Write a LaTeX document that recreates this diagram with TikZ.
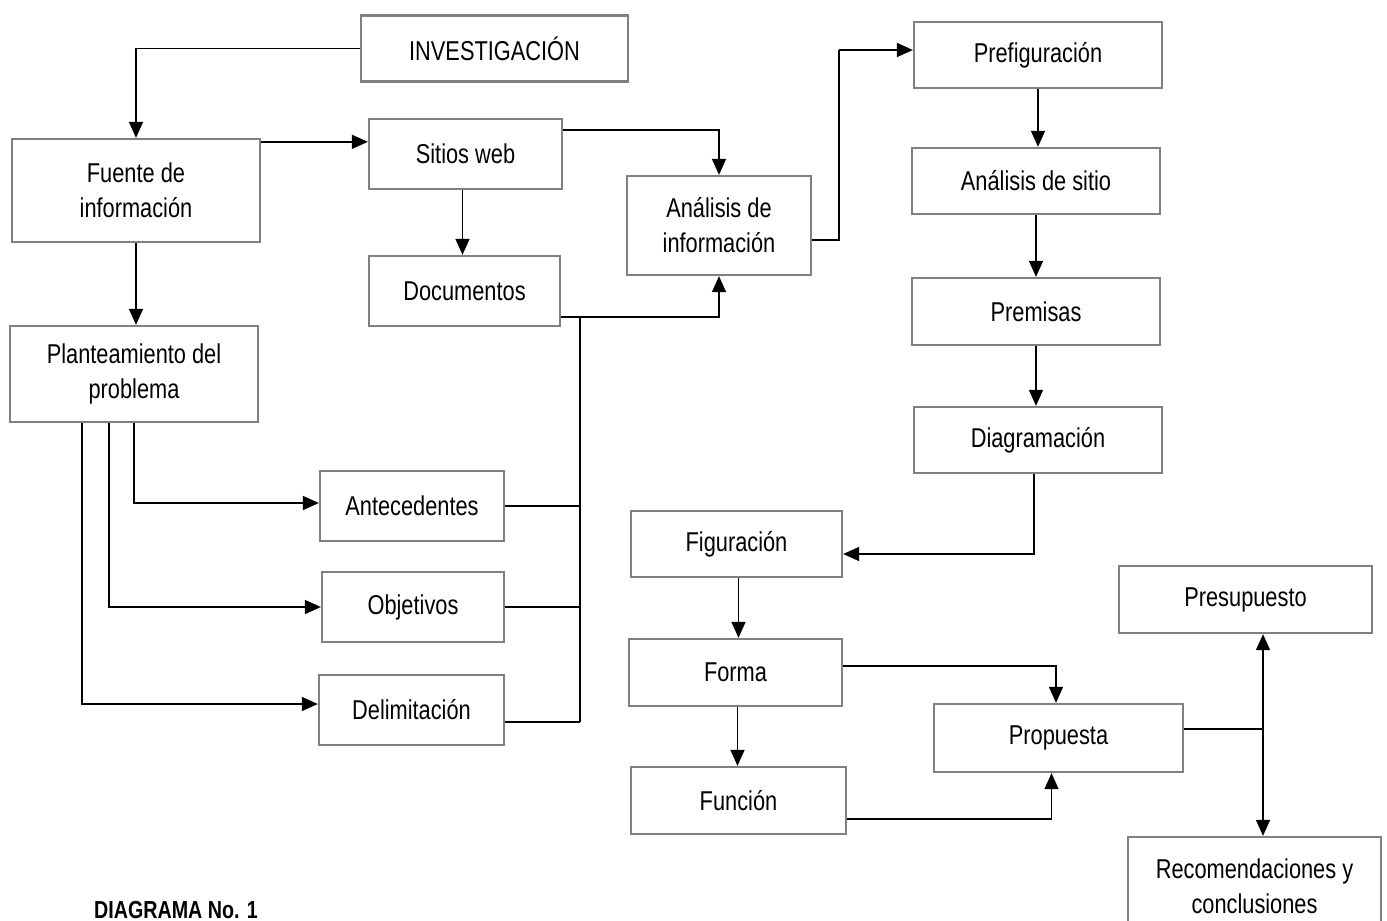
\documentclass[tikz,border=0pt]{standalone}
\usepackage{fontspec}
\setmainfont{Liberation Sans}[FakeStretch=0.8]
\newfontfamily\rotulo{Liberation Sans}[FakeStretch=0.8]
\usepackage{tikz}
\usetikzlibrary{arrows.meta}

\tikzset{
caja/.style={draw=black!50, line width=1.3pt, align=center, inner sep=0pt, font=\fontsize{15.5}{20}\selectfont},
linea/.style={line width=0.8pt},
flecha/.style={line width=0.8pt, -{Triangle[length=0.32cm,width=0.28cm]}}
}

\begin{document}
\begin{tikzpicture}
\useasboundingbox (0,0) rectangle (27.74,-18.42);
\fill [white] (0,0) rectangle (27.74,-18.42);
\node [caja, minimum width=5.34cm, minimum height=1.32cm] (inv) at (9.89,-0.97) {INVESTIGACIÓN};
\node [caja, minimum width=4.96cm, minimum height=2.06cm] (fue) at (2.72,-3.81) {Fuente de\\información};
\node [caja, minimum width=3.86cm, minimum height=1.40cm] (sit) at (9.31,-3.08) {Sitios web};
\node [caja, minimum width=3.82cm, minimum height=1.40cm] (doc) at (9.29,-5.82) {Documentos};
\node [caja, minimum width=3.68cm, minimum height=1.98cm] (ain) at (14.38,-4.51) {Análisis de\\información};
\node [caja, minimum width=4.96cm, minimum height=1.92cm] (pla) at (2.68,-7.48) {Planteamiento del\\problema};
\node [caja, minimum width=3.68cm, minimum height=1.40cm] (ant) at (8.24,-10.12) {Antecedentes};
\node [caja, minimum width=3.64cm, minimum height=1.40cm] (obj) at (8.26,-12.14) {Objetivos};
\node [caja, minimum width=3.70cm, minimum height=1.40cm] (del) at (8.23,-14.20) {Delimitación};
\node [caja, minimum width=4.96cm, minimum height=1.32cm] (pre) at (20.76,-1.10) {Prefiguración};
\node [caja, minimum width=4.96cm, minimum height=1.32cm] (asi) at (20.72,-3.62) {Análisis de sitio};
\node [caja, minimum width=4.96cm, minimum height=1.34cm] (prm) at (20.72,-6.23) {Premisas};
\node [caja, minimum width=4.96cm, minimum height=1.32cm] (dia) at (20.76,-8.80) {Diagramación};
\node [caja, minimum width=4.22cm, minimum height=1.32cm] (fig) at (14.73,-10.88) {Figuración};
\node [caja, minimum width=4.26cm, minimum height=1.34cm] (for) at (14.71,-13.45) {Forma};
\node [caja, minimum width=4.30cm, minimum height=1.34cm] (fun) at (14.77,-16.01) {Función};
\node [caja, minimum width=4.98cm, minimum height=1.36cm] (prp) at (21.17,-14.76) {Propuesta};
\node [caja, minimum width=5.06cm, minimum height=1.34cm] (psp) at (24.91,-11.99) {Presupuesto};
\node [caja, minimum width=5.06cm, minimum height=1.96cm] (rec) at (25.09,-17.72) {Recomendaciones y\\conclusiones};
\node [anchor=base west, font=\rotulo\bfseries\fontsize{14}{16}\selectfont] (tit) at (1.76,-18.36) {DIAGRAMA No. 1};
\coordinate (fs) at ([yshift=-0.48cm]sit.north west);
\coordinate (bus) at (11.6,-6.32);
\coordinate (nudo) at (25.26,-14.58);
\coordinate (sube) at (16.78,-1.0);
\draw [flecha] (inv.west) -| (fue.north);
\draw [flecha] (fs -| fue.east) -- (fs);
\draw [flecha] (fue.south) -- (fue.south |- pla.north);
\draw [flecha] ([xshift=-0.06cm]sit.south) -- ([xshift=-0.06cm]sit.south |- doc.north);
\draw [flecha] ([yshift=-0.24cm]sit.north east) -| (ain.north);
\draw [flecha] ([yshift=0.2cm]doc.south east) -| (ain.south);
\draw [linea] (bus) -- (bus |- 0,-14.44);
\draw [linea] (ant.east) -- (ant.east -| bus);
\draw [linea] (obj.east) -- (obj.east -| bus);
\draw [linea] ([yshift=-0.24cm]del.east) -- ([yshift=-0.24cm]del.east -| bus);
\draw [flecha] (pla.south) |- ([yshift=0.06cm]ant.west);
\draw [flecha] ([xshift=-0.5cm]pla.south) |- (obj.west);
\draw [flecha] ([xshift=-1.04cm]pla.south) |- ([yshift=0.12cm]del.west);
\draw [linea] ([yshift=-0.29cm]ain.east) -| (sube);
\draw [flecha] (sube) -- (sube -| pre.west);
\draw [flecha] (pre.south) -- (pre.south |- asi.north);
\draw [flecha] (asi.south) -- (asi.south |- prm.north);
\draw [flecha] (prm.south) -- (prm.south |- dia.north);
\draw [flecha] ([xshift=-0.08cm]dia.south) |- ([yshift=-0.2cm]fig.east);
\draw [flecha] ([xshift=0.04cm]fig.south) -- ([xshift=0.04cm]fig.south |- for.north);
\draw [flecha] ([xshift=0.04cm]for.south) -- ([xshift=0.04cm]for.south |- fun.north);
\draw [flecha] ([yshift=0.13cm]for.east) -| ([xshift=-0.05cm]prp.north);
\draw [flecha] ([yshift=-0.37cm]fun.east) -| ([xshift=-0.14cm]prp.south);
\draw [linea] (nudo -| prp.east) -- (nudo);
\draw [flecha] (nudo) -- (nudo |- psp.south);
\draw [flecha] (nudo) -- (nudo |- rec.north);
\end{tikzpicture}
\end{document}
